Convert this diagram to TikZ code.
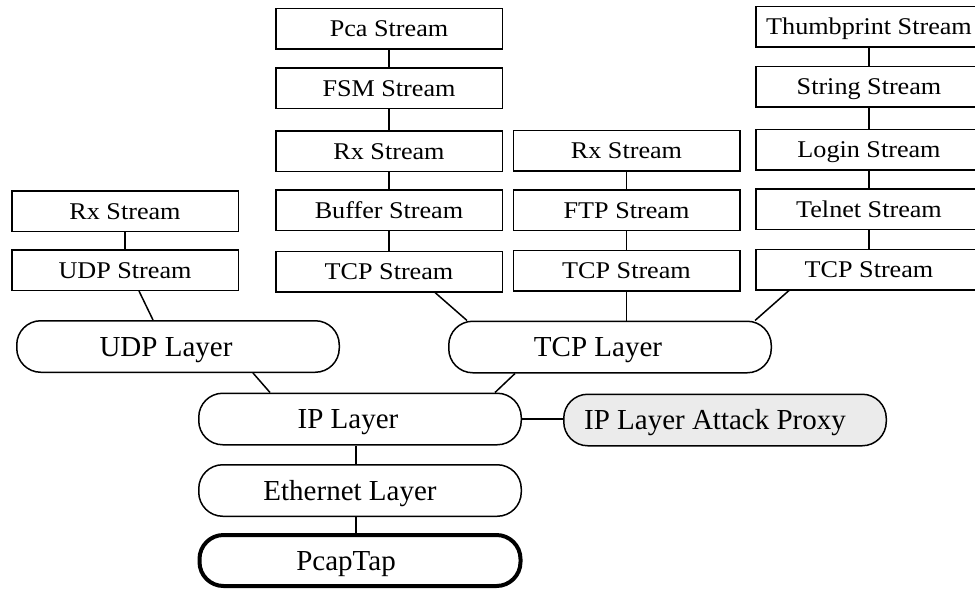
\documentclass[tikz,border=0pt]{standalone}
\usepackage{fontspec}
\setmainfont{Liberation Serif}
\newfontfamily\boxfont[FakeStretch=1.09]{Liberation Serif}
\definecolor{proxyfill}{RGB}{235,235,235}
\begin{document}
\begin{tikzpicture}[x=1pt,y=-1pt,
  box/.style={draw, line width=1.5pt, minimum width=226.5pt, minimum height=40.5pt, inner sep=0pt,
    font=\boxfont\fontsize{24}{24}\selectfont, text height=16pt, text depth=0pt},
  layer/.style={draw, line width=1.5pt, rounded corners=24pt, minimum width=322.5pt, minimum height=51.5pt, inner sep=0pt},
  ltext/.style={font=\fontsize{29}{29}\selectfont, text height=19pt, text depth=0pt, inner sep=0pt},
  conn/.style={line width=1.5pt}]
\clip (0,0) rectangle (975,590);
% left column
\node[box] (rx1) at (125,211) {Rx Stream};
\node[box] (udps) at (125,270) {UDP Stream};
% middle-left column
\node[box] (pca) at (389,28.5) {Pca Stream};
\node[box] (fsm) at (389,88) {FSM Stream};
\node[box] (rx2) at (389,151) {Rx Stream};
\node[box] (buf) at (389,210) {Buffer Stream};
\node[box] (tcps1) at (389,271.5) {TCP Stream};
% middle column
\node[box] (rx3) at (626.5,150.5) {Rx Stream};
\node[box] (ftp) at (626.5,210) {FTP Stream};
\node[box] (tcps2) at (626.5,270.5) {TCP Stream};
% right column
\node[box] (thumb) at (869,26.5) {Thumbprint Stream};
\node[box] (str) at (869,86.5) {String Stream};
\node[box] (login) at (869,149.5) {Login Stream};
\node[box] (telnet) at (869,209) {Telnet Stream};
\node[box] (tcps3) at (869,269.5) {TCP Stream};
% layers
\node[layer, label={[ltext, xshift=-12pt]center:UDP Layer}] (udpl) at (178,346.5) {};
\node[layer, label={[ltext, xshift=-12pt]center:TCP Layer}] (tcpl) at (610,347) {};
\node[layer, label={[ltext, xshift=-12pt]center:IP Layer}] (ipl) at (360,419) {};
\node[layer, fill=proxyfill, label={[ltext, xshift=-10pt]center:IP Layer Attack Proxy}] (proxy) at (725,420) {};
\node[layer, label={[ltext, xshift=-10pt]center:Ethernet Layer}] (eth) at (360,490.5) {};
\node[layer, line width=4pt, minimum width=321pt, minimum height=51pt, label={[ltext, xshift=-14pt]center:PcapTap}] (pcap) at (360,560.5) {};
% connectors
\draw[conn] (rx1) -- (udps);
\draw[conn] (pca) -- (fsm);
\draw[conn] (fsm) -- (rx2);
\draw[conn] (rx2) -- (buf);
\draw[conn] (buf) -- (tcps1);
\draw[conn] (rx3) -- (ftp);
\draw[conn] (ftp) -- (tcps2);
\draw[conn] (thumb) -- (str);
\draw[conn] (str) -- (login);
\draw[conn] (login) -- (telnet);
\draw[conn] (telnet) -- (tcps3);
\draw[conn] ([xshift=14pt]udps.south) -- ([xshift=-25pt]udpl.north);
\draw[conn] ([xshift=46pt]tcps1.south) -- ([xshift=-143pt]tcpl.north);
\draw[conn] (tcps2.south) -- (tcps2.south |- tcpl.north);
\draw[conn] ([xshift=-80pt]tcps3.south) -- ([xshift=145pt]tcpl.north);
\draw[conn] ([xshift=75pt]udpl.south) -- ([xshift=-90pt]ipl.north);
\draw[conn] ([xshift=-95pt]tcpl.south) -- ([xshift=135pt]ipl.north);
\draw[conn] (ipl.east) -- (ipl.east -| proxy.west);
\draw[conn] ([xshift=-4pt]ipl.south) -- ([xshift=-4pt]eth.north);
\draw[conn] ([xshift=-4pt]eth.south) -- ([xshift=-4pt]pcap.north);
\end{tikzpicture}
\end{document}
